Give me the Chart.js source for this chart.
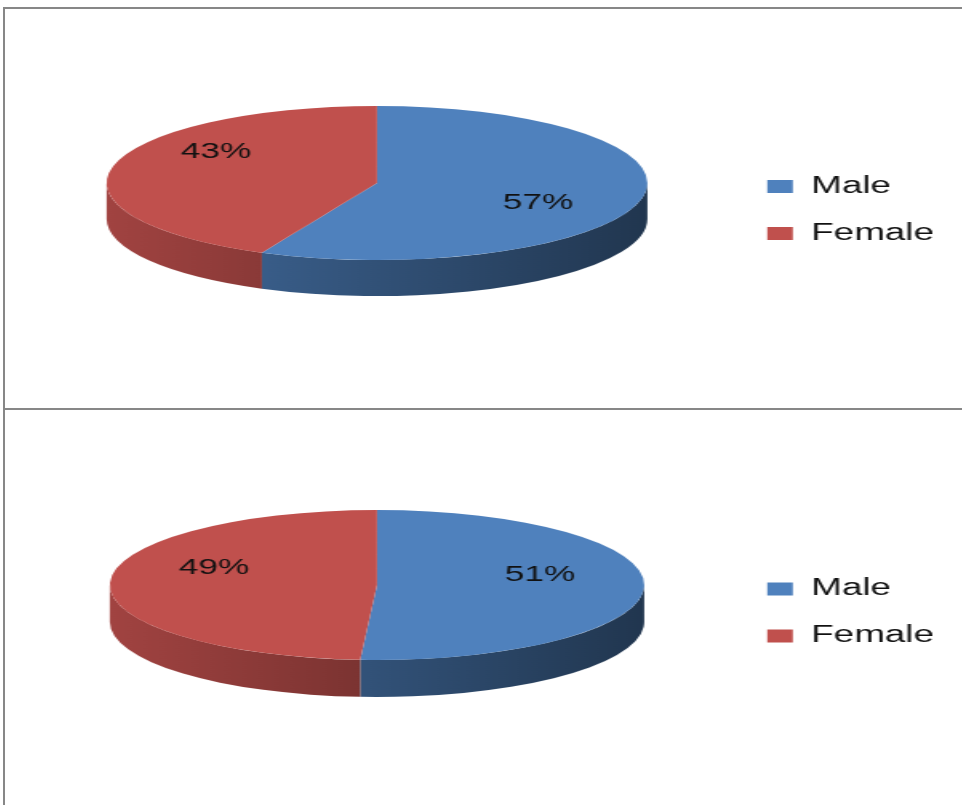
<!DOCTYPE html>
<html>
<head>
<meta charset="utf-8">
<script src="https://cdn.jsdelivr.net/npm/chart.js@4.4.1/dist/chart.umd.min.js"></script>
<style>
  html, body { margin: 0; padding: 0; background: #fff; overflow: hidden; }
  body { width: 962px; height: 805px; position: relative; }
  .rule { position: absolute; background: #878787; }
  /* the reference is stretched sideways, so each chart is drawn narrow and widened */
  canvas.wide { position: absolute; left: 6px; transform: scaleX(1.6); transform-origin: 0 0; }
</style>
</head>
<body>
<div class="rule" style="left:3px; top:7px; width:959px; height:2px"></div>
<div class="rule" style="left:3px; top:7px; width:2px; height:798px"></div>
<div class="rule" style="left:3px; top:408px; width:959px; height:2px"></div>
<canvas id="chartTop" class="wide" width="598" height="399" style="top:9px"></canvas>
<canvas id="chartBottom" class="wide" width="598" height="395" style="top:410px"></canvas>

<script>
const genderLabels = ['Male', 'Female'];
const topShares = [57, 43];
const bottomShares = [51, 49];
const sliceColors = ['#4F81BD', '#C0504D'];

// darken a hex colour by factor f
function shade(hex, f) {
    const n = parseInt(hex.slice(1), 16);
    const r = Math.round(((n >> 16) & 255) * f);
    const g = Math.round(((n >> 8) & 255) * f);
    const b = Math.round((n & 255) * f);
    return `rgb(${r}, ${g}, ${b})`;
}

// Fake 3D pie: squash the arcs Chart.js draws and add a front wall under them
const pie3d = {
    id: 'pie3d',
    beforeDatasetsDraw(chart, args, opts) {
        const arcs = chart.getDatasetMeta(0).data;
        if (!arcs.length) return;
        const ctx = chart.ctx;
        const cx = arcs[0].x, cy = arcs[0].y, rx = arcs[0].outerRadius;
        const ry = rx * opts.tilt;
        const top = cy - opts.depth / 2;
        const colors = chart.data.datasets[0].backgroundColor;

        arcs.forEach((arc, i) => {
            const grad = ctx.createLinearGradient(cx - rx, 0, cx + rx, 0);
            grad.addColorStop(0, shade(colors[i], 0.84));
            grad.addColorStop(1, shade(colors[i], 0.42));
            // only the front half (0..PI) of the rim is visible
            for (let k = -1; k <= 1; k++) {
                const lo = Math.max(arc.startAngle, 2 * Math.PI * k);
                const hi = Math.min(arc.endAngle, Math.PI + 2 * Math.PI * k);
                if (hi <= lo) continue;
                ctx.beginPath();
                ctx.ellipse(cx, top, rx, ry, 0, lo, hi, false);
                ctx.ellipse(cx, top + opts.depth, rx, ry, 0, hi, lo, true);
                ctx.closePath();
                ctx.fillStyle = grad;
                ctx.fill();
            }
        });

        ctx.save();
        ctx.translate(cx, top);
        ctx.scale(1, opts.tilt);
        ctx.translate(-cx, -cy);
    },
    afterDatasetsDraw(chart, args, opts) {
        const ctx = chart.ctx;
        ctx.restore();
        const arcs = chart.getDatasetMeta(0).data;
        if (!arcs.length) return;
        const values = chart.data.datasets[0].data;
        const total = values.reduce((a, b) => a + b, 0);
        const cx = arcs[0].x, cy = arcs[0].y, rx = arcs[0].outerRadius;
        const ry = rx * opts.tilt;
        const top = cy - opts.depth / 2;

        ctx.save();
        ctx.font = `${opts.labelSize}px "Liberation Sans", Arial, sans-serif`;
        ctx.fillStyle = '#111';
        ctx.textAlign = 'center';
        ctx.textBaseline = 'middle';
        arcs.forEach((arc, i) => {
            const mid = (arc.startAngle + arc.endAngle) / 2;
            const x = cx + opts.labelRadius * rx * Math.cos(mid);
            const y = top + opts.labelRise * ry * Math.sin(mid) + opts.labelLift;
            ctx.fillText(Math.round(values[i] / total * 100) + '%', x, y);
        });
        ctx.restore();
    }
};

function makePie(canvasId, shares, radius, tilt, depth, lift, padBottom) {
    return new Chart(document.getElementById(canvasId), {
        type: 'pie',
        data: {
            labels: genderLabels,
            datasets: [{
                data: shares,
                backgroundColor: sliceColors,
                borderWidth: 0,
                hoverOffset: 0
            }]
        },
        options: {
            responsive: false,
            animation: false,
            events: [],
            radius: radius,
            layout: { padding: { left: 12, right: 8, top: 0, bottom: padBottom } },
            plugins: {
                tooltip: { enabled: false },
                legend: {
                    position: 'right',
                    // empty title only nudges the entries down a little
                    title: { display: true, text: '', padding: 0, font: { size: 15 } },
                    labels: {
                        boxWidth: 16,
                        boxHeight: 13,
                        padding: 24,
                        color: '#111',
                        font: { family: 'Liberation Sans', size: 23 }
                    }
                },
                pie3d: {
                    tilt: tilt,
                    depth: depth,
                    labelSize: 22,
                    labelRadius: 0.61,
                    labelRise: 1.5,
                    labelLift: lift
                }
            }
        },
        plugins: [pie3d]
    });
}

makePie('chartTop', topShares, 169, 0.456, 36, -5.5, 15);
makePie('chartBottom', bottomShares, 167, 0.449, 37, -14, 8);
</script>
</body>
</html>
